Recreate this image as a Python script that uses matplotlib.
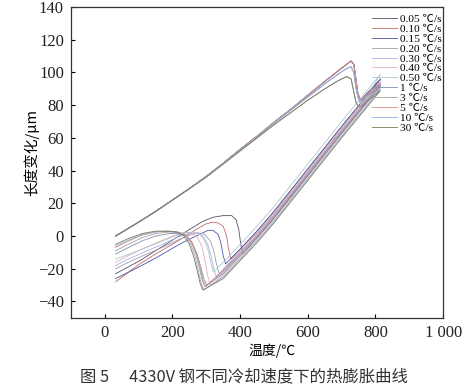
import matplotlib
matplotlib.use('Agg')
import matplotlib.pyplot as plt

# ---- data (temperature in C, length change in um) ----
rates = ['0.05 ℃/s', '0.10 ℃/s', '0.15 ℃/s', '0.20 ℃/s', '0.30 ℃/s', '0.40 ℃/s',
         '0.50 ℃/s', '1 ℃/s', '3 ℃/s', '5 ℃/s', '10 ℃/s', '30 ℃/s']
colors = ['#5b4f6e', '#c46a6a', '#4a55a5', '#a29aaa', '#aab0e8', '#e6aebb',
          '#a9c9cc', '#7f8fb0', '#a0a0a0', '#d98888', '#8fb0dd', '#7a7a55']

# heating branch (three slightly different variants)
heat_T = [32, 60, 100, 150, 200, 250, 300, 350, 400, 450, 500, 550, 600, 650, 690, 715, 728, 736, 742, 748, 756]
heat_hi = [0, 3.5, 8.5, 15, 22, 29, 36.5, 44.5, 53, 61, 69.5, 77.5, 86, 94.5, 101, 105, 107, 105, 96, 87, 83]
heat_mid = [0, 3.5, 8.5, 15, 22, 29, 36.5, 44.5, 52.5, 60.5, 69, 77, 85, 93, 99, 102.5, 103.5, 100, 91, 85, 81]
heat_lo = [0, 3.5, 8.5, 15, 22, 29, 36, 44, 52, 60, 68, 75.5, 83, 90, 95, 97.5, 96, 88, 82, 79.5, 79]
heat_variant = ['hi', 'hi', 'hi', 'mid', 'mid', 'lo', 'lo', 'hi', 'hi', 'hi', 'mid', 'lo']

# cooling branches
cool_T = [
    [815, 700, 600, 500, 450, 408, 402, 396, 388, 375, 350, 320, 290, 250, 200, 150, 100, 32],
    [815, 700, 600, 500, 450, 400, 372, 366, 360, 350, 335, 320, 300, 270, 240, 200, 150, 100, 32],
    [815, 700, 600, 500, 450, 400, 357, 350, 343, 335, 320, 305, 290, 260, 230, 200, 150, 100, 32],
    [815, 700, 600, 500, 450, 400, 338, 330, 322, 312, 295, 275, 250, 220, 180, 130, 80, 32],
    [815, 700, 600, 500, 450, 400, 360, 330, 322, 314, 304, 290, 270, 245, 212, 170, 120, 70, 32],
    [815, 700, 600, 500, 450, 400, 350, 312, 305, 297, 288, 275, 255, 230, 200, 160, 110, 60, 32],
    [815, 700, 600, 500, 450, 400, 360, 321, 314, 306, 296, 282, 262, 235, 200, 160, 110, 60, 32],
    [815, 700, 600, 500, 450, 400, 350, 302, 294, 285, 273, 258, 240, 220, 190, 150, 110, 70, 32],
    [815, 700, 600, 500, 450, 400, 350, 298, 290, 281, 270, 255, 238, 218, 190, 150, 110, 70, 32],
    [815, 700, 600, 500, 450, 400, 350, 296, 288, 279, 268, 254, 237, 216, 190, 150, 110, 70, 32],
    [815, 700, 600, 500, 450, 400, 350, 293, 285, 276, 265, 250, 233, 212, 185, 150, 110, 70, 32],
    [815, 700, 600, 500, 450, 400, 350, 290, 282, 273, 262, 248, 232, 212, 185, 150, 110, 70, 32],
]
cool_dL = [
    [92, 63, 37, 11, -1, -11, -5, 4, 10, 12.5, 12.5, 11.5, 9, 4, -2.5, -9, -15.5, -23],
    [96, 67, 41, 15, 3, -8, -14, -8, 0, 6, 8, 8.5, 7.5, 4, 0, -5, -11, -17.5, -28],
    [96, 67, 41, 15, 3, -8, -17, -12, -4, 1, 3.5, 3.5, 2, -1, -4, -7.5, -13.5, -19, -26],
    [93, 64, 38, 12, 0, -11, -23, -17, -9, -3, 1, 2, 0.5, -2, -6, -10.5, -15, -20],
    [95, 66, 40, 14, 2, -9, -18, -25, -20, -12, -5, 0, 2, 1.5, -1, -5, -9.5, -14, -18],
    [91, 62, 36, 10, -2, -13, -24, -30, -25, -16, -7, -1, 2, 2, 0, -3.5, -8, -13, -16],
    [99, 70, 44, 18, 6, -5, -14, -22, -17, -9, -3, 1, 2.5, 2, -0.5, -4, -8, -12, -14],
    [92, 63, 37, 11, -1, -12, -23, -30, -27, -20, -11, -4, 0, 1.5, 1.5, 0, -3, -7, -11],
    [93, 64, 38, 12, 0, -11, -22, -31, -27, -19, -10, -3, 1, 2, 2.5, 1.5, -1, -5, -9],
    [94, 65, 39, 13, 1, -10, -21, -31, -27, -19, -10, -3, 1, 2.5, 3, 2.5, 0.5, -3, -7],
    [90, 61, 35, 9, -3, -14, -25, -33, -29, -21, -11, -3, 1, 2.5, 3, 2.5, 1, -2.5, -6],
    [89, 60, 34, 8, -4, -15, -26, -33, -29, -21, -12, -4, 0.5, 2.5, 3, 3, 1.5, -1.5, -5],
]

xticks = [0, 200, 400, 600, 800, 1000]
xtick_labels = ['0', '200', '400', '600', '800', '1 000']
yticks = [-40, -20, 0, 20, 40, 60, 80, 100, 120, 140]

serif = ['Liberation Serif', 'Noto Sans CJK SC']
cjk = ['Noto Sans CJK SC', 'DejaVu Sans']

heats = {'hi': heat_hi, 'mid': heat_mid, 'lo': heat_lo}

fig = plt.figure(figsize=(4.76, 3.9), dpi=100)
ax = fig.add_axes([0.149, 0.185, 0.782, 0.797])

for i in range(len(rates)):
    T = heat_T + cool_T[i]
    dL = heats[heat_variant[i]] + cool_dL[i]
    ax.plot(T, dL, color=colors[i], lw=0.6, label=rates[i])

ax.set_xlim(-100, 1000)
ax.set_ylim(-50, 140)
ax.set_xticks(xticks)
ax.set_xticklabels(xtick_labels, family=serif, fontsize=12, color='#222222')
ax.set_yticks(yticks)
ax.set_yticklabels([str(v).replace('-', '\u2212') for v in yticks], family=serif,
                   fontsize=12, color='#222222')
ax.tick_params(direction='in', length=3, width=0.8, top=False, right=False, pad=5)
for s in ax.spines.values():
    s.set_linewidth(0.9)
    s.set_color('#333333')

leg = ax.legend(loc='upper right', bbox_to_anchor=(1.012, 0.997), frameon=False,
                prop={'family': serif, 'size': 8.2}, handlelength=2.2,
                handletextpad=0.3, labelspacing=0.0, borderaxespad=0.1)

fig.text(0.571, 0.1, '温度/℃', family=cjk, fontsize=10, ha='center', va='center')
fig.text(0.067, 0.61, '长度变化/μm', family=cjk, fontsize=10.5, ha='center', va='center',
         rotation=90)
fig.text(0.513, 0.033, '图 5　 4330V 钢不同冷却速度下的热膨胀曲线', family=cjk, fontsize=11.8,
         ha='center', va='center', color='#333333')

fig.savefig('out.png', dpi=100)
